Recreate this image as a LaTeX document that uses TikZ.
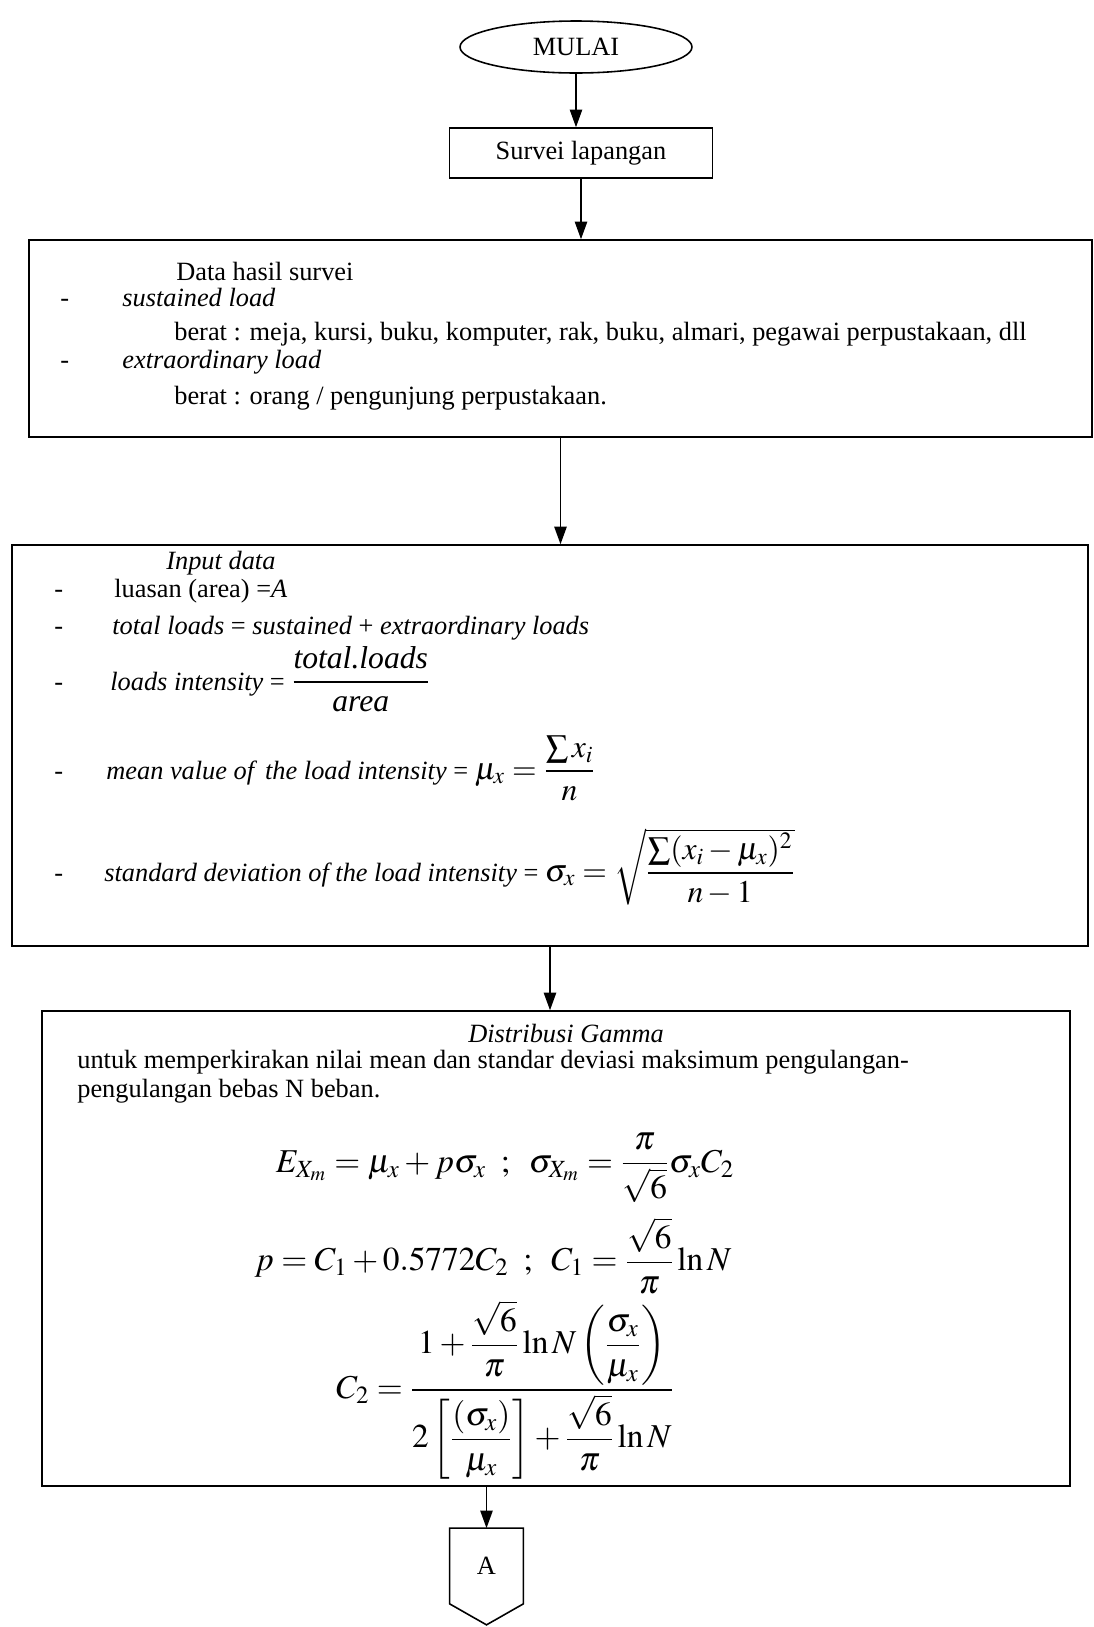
\documentclass[tikz,border=0pt]{standalone}
\usepackage{amsmath}
\usepackage{mathptmx}
\usepackage{fontspec}
\setmainfont{Liberation Serif}
\usetikzlibrary{arrows.meta,shapes.geometric,positioning}

\begin{document}
\begin{tikzpicture}[x=0.02cm, y=-0.02cm,
  every node/.style={font=\fontsize{15}{18}\selectfont},
  terminal/.style={ellipse, draw, line width=0.9pt, minimum width=4.64cm, minimum height=1.04cm},
  process/.style={rectangle, draw, line width=0.9pt},
  line/.style={anchor=base west, inner sep=0pt},
  bul/.style={anchor=base west, inner sep=0pt},
  flow/.style={-{Triangle[length=10pt,width=7pt]}, line width=0.9pt}
]
  \useasboundingbox (0,0) rectangle (1094,1627);

  \node[terminal] (mulai) at (576,47) {MULAI};
  \node[process, minimum width=5.26cm, minimum height=1cm] (survei) at (581,153) {Survei lapangan};

  % data hasil survei
  \node[process, minimum width=21.26cm, minimum height=3.94cm] (data) at (560.5,338.5) {};
  \node[line] (d0) at (176,280) {Data hasil survei};
  \node[bul] (d1b) at (60,306) {-};
  \node[line] (d1) at (122,306) {\textit{sustained load}};
  \node[line] (d2) at (174,340) {berat : meja, kursi, buku, komputer, rak, buku, almari, pegawai perpustakaan, dll};
  \node[bul] (d3b) at (60,368) {-};
  \node[line] (d3) at (122,368) {\textit{extraordinary load}};
  \node[line] (d4) at (174,404) {berat : orang / pengunjung perpustakaan.};

  % input data
  \node[process, minimum width=21.52cm, minimum height=8.02cm] (input) at (550,745.5) {};
  \node[line] (i0) at (166,569) {\textit{Input data}};
  \node[bul] (i1b) at (54,597) {-};
  \node[line] (i1) at (114,597) {luasan (area) =\textit{A}};
  \node[bul] (i2b) at (54,634) {-};
  \node[line] (i2) at (112,634) {\textit{total loads} = \textit{sustained} + \textit{extraordinary loads}};
  \node[bul] (i3b) at (54,690) {-};
  \node[line] (i3) at (110,690) {\textit{loads intensity} =
    {\fontsize{18}{22}\selectfont$\dfrac{\textit{total.loads}}{\textit{area}}$}};
  \node[bul] (i4b) at (54,779) {-};
  \node[line] (i4) at (106,779) {\textit{mean value of\, the load intensity} =
    {\fontsize{18}{22}\selectfont$\mu_x = \dfrac{\sum x_i}{n}$}};
  \node[bul] (i5b) at (54,881) {-};
  \node[line] (i5) at (104,881) {\textit{standard deviation of the load intensity} =
    {\fontsize{18}{22}\selectfont$\sigma_x = \sqrt{\dfrac{\sum(x_i-\mu_x)^2}{n-1}}$}};

  % distribusi gamma
  \node[process, minimum width=20.56cm, minimum height=9.5cm] (gamma) at (556,1248.5) {};
  \node[anchor=base, inner sep=0pt] (g0) at (566,1042) {\textit{Distribusi Gamma}};
  \node[line] (g1) at (77,1068) {untuk memperkirakan nilai mean dan standar deviasi maksimum pengulangan-};
  \node[line] (g2) at (77,1097) {pengulangan bebas N beban.};
  \node[font=\fontsize{19}{23}\selectfont] (g3) at (505,1168)
    {$E_{X_m} = \mu_x + p\sigma_x \;\;;\;\; \sigma_{X_m} = \dfrac{\pi}{\sqrt6}\sigma_x C_2$};
  \node[font=\fontsize{19}{23}\selectfont] (g4) at (493,1256)
    {$p = C_1 + 0.5772C_2 \;\;;\;\; C_1 = \dfrac{\sqrt6}{\pi}\ln N$};
  \node[font=\fontsize{19}{23}\selectfont] (g5) at (505,1390)
    {$C_2 = \dfrac{1+\dfrac{\sqrt6}{\pi}\ln N\left(\dfrac{\sigma_x}{\mu_x}\right)}
      {2\left[\dfrac{(\sigma_x)}{\mu_x}\right]+\dfrac{\sqrt6}{\pi}\ln N}$};

  % konektor
  \node[minimum width=1.46cm, minimum height=1.5cm, inner sep=0pt] (A) at (486.5,1566) {A};
  \draw[line width=0.9pt] (A.north west) -- (A.north east) -- (A.south east)
    -- ([yshift=-0.42cm]A.south) -- (A.south west) -- cycle;

  \draw[flow] (mulai.south) -- (mulai.south |- survei.north);
  \draw[flow] (survei.south) -- (survei.south |- data.north);
  \draw[flow] (data.south) -- (data.south |- input.north);
  \draw[flow] (input.south) -- (input.south |- gamma.north);
  \draw[flow] (A.north |- gamma.south) -- (A.north);
\end{tikzpicture}
\end{document}
